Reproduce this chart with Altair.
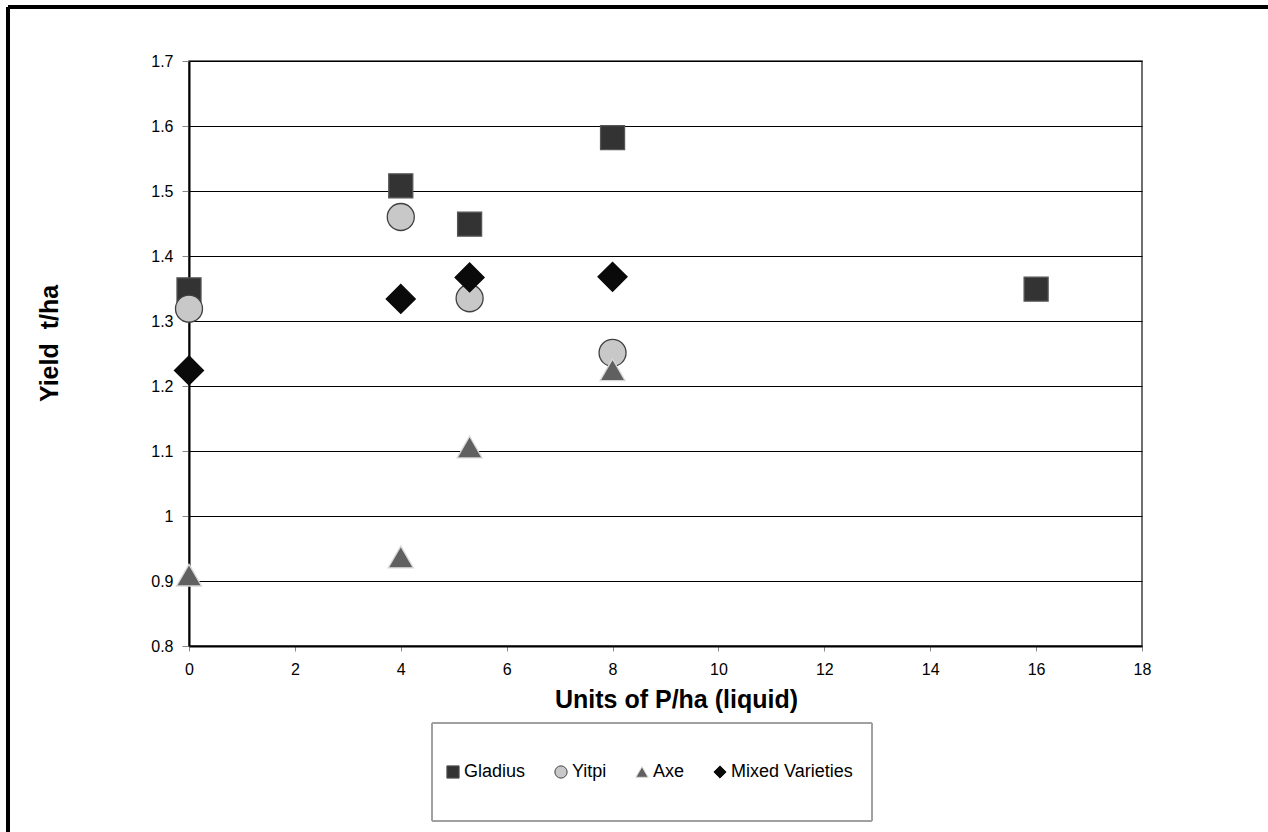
import altair as alt
import pandas as pd

# Yield response of wheat varieties to liquid phosphorus
series_names = ["Gladius", "Yitpi", "Axe", "Mixed Varieties"]
series_shapes = ["square", "circle", "triangle-up", "diamond"]
series_fills = ["#333333", "#c8c8c8", "#606060", "#0a0a0a"]
series_strokes = ["#555555", "#404040", "#d8d8d8", "#0a0a0a"]
series_sizes = [576, 729, 625, 841]

gladius_x = [0, 4, 5.3, 8, 16]
gladius_y = [1.348, 1.508, 1.449, 1.582, 1.349]

yitpi_x = [0, 4, 5.3, 8]
yitpi_y = [1.319, 1.46, 1.335, 1.251]

axe_x = [0, 4, 5.3, 8]
axe_y = [0.909, 0.937, 1.106, 1.225]

mixed_x = [0, 4, 5.3, 8]
mixed_y = [1.224, 1.334, 1.367, 1.368]

x_ticks = [0, 2, 4, 6, 8, 10, 12, 14, 16, 18]
y_ticks = [0.8, 0.9, 1.0, 1.1, 1.2, 1.3, 1.4, 1.5, 1.6, 1.7]

rows = []
for name, xs, ys in [
    ("Gladius", gladius_x, gladius_y),
    ("Yitpi", yitpi_x, yitpi_y),
    ("Axe", axe_x, axe_y),
    ("Mixed Varieties", mixed_x, mixed_y),
]:
    for xv, yv in zip(xs, ys):
        rows.append({"series": name, "p": xv, "yield": yv})
df = pd.DataFrame(rows)

FONT = "Liberation Sans"
W, H = 953, 585
PAD_L, PAD_T = 189, 61

x_enc = alt.X(
    "p:Q",
    scale=alt.Scale(domain=[0, 18], nice=False, zero=False),
    axis=alt.Axis(
        values=x_ticks,
        title="Units of P/ha (liquid)",
        grid=False,
        labelFlush=False,
        titleX=487,
        titleAlign="center",
    ),
)
y_enc = alt.Y(
    "yield:Q",
    scale=alt.Scale(domain=[0.8, 1.7], nice=False, zero=False),
    axis=alt.Axis(
        values=y_ticks,
        format=".1~f",
        title="Yield\u00a0\u00a0t/ha",
        grid=True,
        labelFlush=False,
        titleY=282,
        titlePadding=88,
    ),
)
shape_enc = alt.Shape(
    "series:N",
    sort=series_names,
    scale=alt.Scale(domain=series_names, range=series_shapes),
    legend=alt.Legend(
        title=None,
        orient="none",
        direction="horizontal",
        legendX=255,
        legendY=702,
    ),
)
fill_enc = alt.Fill(
    "series:N",
    sort=series_names,
    scale=alt.Scale(domain=series_names, range=series_fills),
    legend=alt.Legend(title=None),
)
stroke_enc = alt.Stroke(
    "series:N",
    sort=series_names,
    scale=alt.Scale(domain=series_names, range=series_strokes),
    legend=alt.Legend(title=None),
)

# One layer per variety so each keeps its own marker size; drawn in series order
layers = []
for name, size in zip(series_names, series_sizes):
    layers.append(
        alt.Chart(df)
        .transform_filter(alt.datum.series == name)
        .mark_point(filled=True, opacity=1, strokeWidth=1.3, size=size)
        .encode(x=x_enc, y=y_enc, shape=shape_enc, fill=fill_enc, stroke=stroke_enc)
    )

# Outer frame lines and the legend box
frame_top = alt.Chart(df).mark_rule(color="#000000", strokeWidth=2.6).encode(
    x=alt.value(8 - PAD_L), x2=alt.value(1268 - PAD_L + 5), y=alt.value(7 - PAD_T)
)
frame_left = alt.Chart(df).mark_rule(color="#000000", strokeWidth=2.6).encode(
    x=alt.value(8 - PAD_L), y=alt.value(7 - PAD_T), y2=alt.value(832 - PAD_T + 5)
)
legend_box = alt.Chart(df).mark_rect(fill=None, stroke="#a0a0a0", strokeWidth=1).encode(
    x=alt.value(432 - PAD_L), x2=alt.value(872 - PAD_L),
    y=alt.value(723 - PAD_T), y2=alt.value(821 - PAD_T),
)

chart = (
    alt.layer(frame_top, frame_left, legend_box, *layers)
    .resolve_scale(shape="shared", fill="shared", stroke="shared")
    .properties(
        width=W,
        height=H,
        autosize=alt.AutoSizeParams(type="none"),
        padding={"left": PAD_L, "top": PAD_T, "right": 1268 - PAD_L - W, "bottom": 832 - PAD_T - H},
        background="#ffffff",
    )
    .configure_view(stroke="#404040", strokeWidth=1.5)
    .configure_axis(
        labelFont=FONT,
        titleFont=FONT,
        labelFontSize=16,
        labelColor="#000000",
        titleColor="#000000",
        titleFontWeight="bold",
        domainColor="#000000",
        domainWidth=2,
        tickColor="#888888",
        tickWidth=1,
        gridColor="#000000",
        gridWidth=1.2,
    )
    .configure_axisX(tickSize=5, labelPadding=10, titleFontSize=25, titlePadding=10)
    .configure_axisY(tickSize=7, labelPadding=9, titleFontSize=25)
    .configure_legend(
        symbolSize=150,
        labelFontSize=18,
        labelFont=FONT,
        labelColor="#000000",
        labelOffset=2,
        columnPadding=26,
        symbolStrokeWidth=1,
    )
)

chart.save("out.html", embed_options={"renderer": "svg", "actions": False})
